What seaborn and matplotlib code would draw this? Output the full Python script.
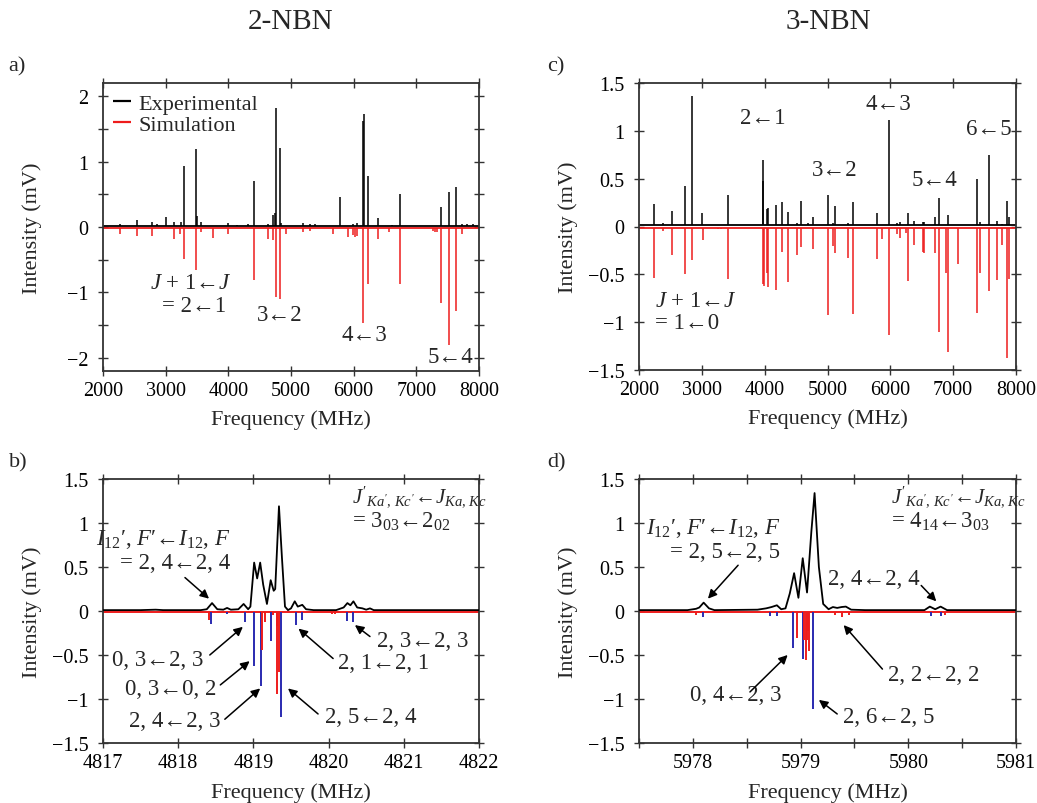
import numpy as np
import pandas as pd
import matplotlib
matplotlib.use("Agg")
import matplotlib.pyplot as plt
import seaborn as sns
from matplotlib.ticker import FixedLocator

# ---------------- data ----------------
# Panel a: 2-NBN broadband (MHz, mV)
a_exp_freq = [2271, 2537, 2777, 2856, 3000, 3138, 3245, 3298, 3489, 3500, 3564, 3989, 4133, 4319,
              4410, 4628, 4718, 4739, 4755, 4819, 4840, 5197, 5303, 5383, 5777, 5995, 6048, 6149,
              6165, 6234, 6388, 6606, 6734, 7388, 7527, 7638, 7723, 7803, 7910]
a_exp_int = [0.05, 0.11, 0.08, 0.05, 0.16, 0.08, 0.07, 0.93, 1.19, 0.17, 0.08, 0.06, 0.03, 0.04,
             0.70, 0.05, 0.18, 0.22, 1.82, 1.21, 0.06, 0.06, 0.04, 0.05, 0.46, 0.05, 0.06, 1.62,
             1.73, 0.78, 0.13, 0.03, 0.50, 0.31, 0.53, 0.61, 0.05, 0.05, 0.04]
a_sim_freq = [2271, 2537, 2777, 3138, 3229, 3298, 3489, 3564, 3750, 3989, 4410, 4628, 4718, 4755,
              4819, 4915, 5197, 5303, 5676, 5915, 5995, 6021, 6048, 6154, 6229, 6388, 6569, 6734,
              7271, 7298, 7335, 7388, 7527, 7638, 7723]
a_sim_int = [-0.10, -0.13, -0.13, -0.19, -0.10, -0.49, -0.65, -0.08, -0.17, -0.10, -0.81, -0.19,
             -0.20, -1.07, -1.10, -0.10, -0.08, -0.06, -0.10, -0.15, -0.12, -0.15, -0.13, -1.47,
             -0.87, -0.19, -0.08, -0.87, -0.06, -0.08, -0.08, -1.16, -1.81, -1.28, -0.10]

# Panel c: 3-NBN broadband
c_exp_freq = [2244, 2383, 2531, 2733, 2840, 3004, 3413, 3966, 3977, 4030, 4046, 4179, 4275, 4370,
              4513, 4577, 4684, 4768, 5002, 5082, 5119, 5321, 5401, 5794, 5980, 6102, 6160, 6283,
              6378, 6527, 6543, 6708, 6777, 6920, 7372, 7420, 7574, 7701, 7781, 7856, 7893]
c_exp_int = [0.24, 0.035, 0.165, 0.42, 1.36, 0.14, 0.33, 0.69, 0.48, 0.18, 0.19, 0.22, 0.26, 0.15,
             0.04, 0.27, 0.035, 0.095, 0.33, 0.04, 0.21, 0.035, 0.26, 0.14, 1.11, 0.035, 0.05, 0.14,
             0.06, 0.045, 0.05, 0.10, 0.30, 0.12, 0.50, 0.05, 0.75, 0.06, 0.03, 0.27, 0.095]
c_sim_freq = [2244, 2383, 2531, 2733, 2840, 3015, 3250, 3300, 3413, 3966, 3987, 4030, 4046, 4179,
              4275, 4370, 4513, 4577, 4768, 5002, 5082, 5119, 5321, 5401, 5794, 5868, 5980, 6102,
              6160, 6251, 6283, 6378, 6516, 6543, 6708, 6777, 6878, 6920, 7075, 7372, 7420, 7574,
              7701, 7781, 7856, 7893]
c_sim_int = [-0.54, -0.05, -0.30, -0.50, -0.35, -0.14, -0.03, -0.03, -0.55, -0.60, -0.62, -0.49,
             -0.63, -0.66, -0.27, -0.58, -0.30, -0.21, -0.23, -0.93, -0.20, -0.28, -0.33, -0.91,
             -0.34, -0.13, -1.13, -0.08, -0.12, -0.07, -0.57, -0.19, -0.27, -0.28, -0.28, -1.10,
             -0.49, -1.31, -0.39, -0.90, -0.49, -0.67, -0.56, -0.19, -1.37, -0.55]

# Panel b: 2-NBN, 3_03 <- 2_02 hyperfine structure
b_exp_freq = [4817.0, 4817.5, 4817.7, 4817.8, 4818.3, 4818.38, 4818.45, 4818.52, 4818.6, 4818.65,
              4818.7, 4818.8, 4818.87, 4818.93, 4818.96, 4819.01, 4819.05, 4819.09, 4819.13,
              4819.18, 4819.23, 4819.27, 4819.29, 4819.34, 4819.38, 4819.42, 4819.46, 4819.5,
              4819.55, 4819.59, 4819.65, 4819.7, 4819.8, 4820.1, 4820.2, 4820.25, 4820.29,
              4820.33, 4820.38, 4820.45, 4820.5, 4820.55, 4820.6, 4822.0]
b_exp_int = [0.01, 0.01, 0.015, 0.01, 0.01, 0.02, 0.09, 0.02, 0.015, 0.035, 0.015, 0.02, 0.08,
             0.02, 0.05, 0.55, 0.37, 0.55, 0.30, 0.08, 0.35, 0.23, 0.25, 1.19, 0.60, 0.05, 0.01,
             0.03, 0.11, 0.05, 0.07, 0.02, 0.01, 0.01, 0.04, 0.09, 0.065, 0.11, 0.04, 0.03, 0.015,
             0.03, 0.01, 0.01]
b_blue_freq = [4818.44, 4818.65, 4818.89, 4819.01, 4819.10, 4819.23, 4819.37, 4819.56, 4819.65,
               4820.25, 4820.32]
b_blue_int = [-0.15, -0.03, -0.13, -0.63, -0.85, -0.34, -1.20, -0.16, -0.10, -0.11, -0.12]
b_red_freq = [4818.41, 4819.11, 4819.15, 4819.26, 4819.31, 4819.32, 4819.34, 4820.05, 4820.09,
              4820.45, 4820.5]
b_red_int = [-0.10, -0.44, -0.12, -0.05, -0.17, -0.94, -0.69, -0.03, -0.03, -0.02, -0.02]

# Panel d: 3-NBN, 4_14 <- 3_03 hyperfine structure
d_exp_freq = [5977.5, 5977.95, 5978.03, 5978.06, 5978.1, 5978.15, 5978.2, 5978.6, 5978.68,
              5978.73, 5978.78, 5978.82, 5978.86, 5978.9, 5978.94, 5978.98, 5979.02, 5979.06,
              5979.1, 5979.13, 5979.17, 5979.21, 5979.26, 5979.3, 5979.34, 5979.38, 5979.42,
              5979.47, 5979.6, 5980.15, 5980.2, 5980.25, 5980.3, 5980.36, 5981.0]
d_exp_int = [0.01, 0.01, 0.025, 0.04, 0.095, 0.03, 0.01, 0.015, 0.03, 0.045, 0.065, 0.02, 0.03,
             0.20, 0.43, 0.15, 0.60, 0.21, 0.90, 1.34, 0.50, 0.08, 0.02, 0.045, 0.035, 0.045,
             0.05, 0.015, 0.01, 0.01, 0.05, 0.02, 0.05, 0.01, 0.01]
d_blue_freq = [5978.09, 5978.72, 5978.78, 5978.93, 5979.02, 5979.12, 5980.21, 5980.30]
d_blue_int = [-0.07, -0.06, -0.06, -0.42, -0.54, -1.11, -0.06, -0.06]
d_red_freq = [5978.03, 5978.97, 5979.03, 5979.05, 5979.06, 5979.07, 5979.08, 5979.32, 5979.38,
              5979.45, 5980.34]
d_red_int = [-0.04, -0.31, -0.33, -0.56, -0.33, -0.23, -0.45, -0.05, -0.07, -0.05, -0.04]

# tick labels
broad_xticks = [2000, 3000, 4000, 5000, 6000, 7000, 8000]
a_yticks = [-2, -1, 0, 1, 2]
a_yticklabels = ["\u22122", "\u22121", "0", "1", "2"]
half_yticks = [-1.5, -1, -0.5, 0, 0.5, 1, 1.5]
half_yticklabels = ["\u22121.5", "\u22121", "\u22120.5", "0", "0.5", "1", "1.5"]
b_xticks = [4817, 4818, 4819, 4820, 4821, 4822]
d_xticks = [5978, 5979, 5980, 5981]

titles = ["2-NBN", "3-NBN"]
panel_letters = ["a)", "b)", "c)", "d)"]

# ---------------- style ----------------
sns.set_theme(style="ticks")
plt.rcParams.update({
    "font.family": ["Liberation Serif", "DejaVu Serif"],
    "mathtext.fontset": "custom",
    "mathtext.rm": "Liberation Serif",
    "mathtext.it": "Liberation Serif:italic",
    "mathtext.bf": "Liberation Serif:bold",
    "axes.unicode_minus": True,
})

RED = "#ee1c1c"
BLUE = "#2a2ab0"
AX = "#333333"
TICK_FS = 14.5
LAB_FS = 16
ANN_FS = 16.5
J_FS = 15
LA = "←"


def tr(a, b):
    return f"{a}{LA}{b}"


W, H = 1037, 804
fig = plt.figure(figsize=(W / 100, H / 100), dpi=100)


def add_axes(l, t, r, b):
    return fig.add_axes([l / W, 1 - b / H, (r - l) / W, (b - t) / H])


axa = add_axes(103, 84, 479, 372)
axc = add_axes(639, 84, 1016, 371)
axb = add_axes(103, 480, 479, 744)
axd = add_axes(639, 480, 1016, 744)


def style(ax, label_top_px):
    for s in ax.spines.values():
        s.set_color(AX)
        s.set_linewidth(1.3)
    ax.tick_params(which="both", direction="inout", top=True, right=True, length=7,
                   width=1.0, color=AX, labelcolor="black", labelsize=TICK_FS)
    ax.tick_params(axis="y", pad=7)
    ax.tick_params(axis="x", pad=4)
    ax.set_xlabel("Frequency (MHz)", fontsize=LAB_FS)
    ax.set_ylabel("Intensity (mV)", fontsize=LAB_FS)
    hpx = ax.get_position().height * H
    wpx = ax.get_position().width * W
    ax.xaxis.set_label_coords(0.5, -label_top_px / hpx)
    ax.yaxis.set_label_coords(-61 / wpx, 0.5)
    ax.grid(False)


# ---- panel a ----
axa.axhline(0.02, color="black", lw=1.3)
axa.axhline(-0.02, color=RED, lw=1.3)
axa.vlines(a_exp_freq, 0.02, a_exp_int, color="black", lw=1.1, label="Experimental")
axa.vlines(a_sim_freq, -0.02, a_sim_int, color=RED, lw=1.1, label="Simulation")
axa.set_xlim(2000, 8000)
axa.set_ylim(-2.2, 2.2)
axa.set_xticks(broad_xticks)
axa.set_yticks(a_yticks)
axa.set_yticklabels(a_yticklabels)
axa.yaxis.set_minor_locator(FixedLocator([-1.5, -0.5, 0.5, 1.5]))
style(axa, 38)
leg = axa.legend(loc="upper left", bbox_to_anchor=(0.0, 1.0), frameon=False, fontsize=LAB_FS,
                 handlelength=0.8, handletextpad=0.35, labelspacing=0.05, borderaxespad=0.25,
                 borderpad=0.2)
for h in leg.legend_handles:
    h.set_linewidth(1.6)
axa.text(4053, -0.85, r"$J$ + 1" + LA + r"$J$", ha="right", va="center", fontsize=ANN_FS)
axa.text(2947, -1.2, "= " + tr(2, 1), ha="left", va="center", fontsize=ANN_FS)
axa.text(4814, -1.33, tr(3, 2), ha="center", va="center", fontsize=ANN_FS)
axa.text(6170, -1.64, tr(4, 3), ha="center", va="center", fontsize=ANN_FS)
axa.text(7548, -1.98, tr(5, 4), ha="center", va="center", fontsize=ANN_FS)

# ---- panel c ----
axc.axhline(0.015, color="black", lw=1.3)
axc.axhline(-0.02, color=RED, lw=1.3)
axc.vlines(c_exp_freq, 0.015, c_exp_int, color="black", lw=1.1)
axc.vlines(c_sim_freq, -0.02, c_sim_int, color=RED, lw=1.1)
axc.set_xlim(2000, 8000)
axc.set_ylim(-1.5, 1.5)
axc.set_xticks(broad_xticks)
axc.set_yticks(half_yticks)
axc.set_yticklabels(half_yticklabels)
style(axc, 38)
axc.text(3977, 1.14, tr(2, 1), ha="center", va="center", fontsize=ANN_FS)
axc.text(5969, 1.29, tr(4, 3), ha="center", va="center", fontsize=ANN_FS)
axc.text(5119, 0.60, tr(3, 2), ha="center", va="center", fontsize=ANN_FS)
axc.text(6703, 0.49, tr(5, 4), ha="center", va="center", fontsize=ANN_FS)
axc.text(7563, 1.02, tr(6, 5), ha="center", va="center", fontsize=ANN_FS)
axc.text(2250, -0.77, r"$J$ + 1" + LA + r"$J$", ha="left", va="center", fontsize=ANN_FS)
axc.text(2250, -1.0, "= " + tr(1, 0), ha="left", va="center", fontsize=ANN_FS)

ARROW = dict(arrowstyle="-|>", color="black", lw=1.1, mutation_scale=13, shrinkA=0, shrinkB=0)


def arrow(ax, xy_from, xy_to):
    ax.annotate("", xy=xy_to, xytext=xy_from, arrowprops=ARROW)


I_LINE = r"$I_{12}$′, $F$′" + LA + r"$I_{12}$, $F$"
J_LINE = r"$J'_{Ka',\,Kc'}$" + LA + r"$J_{Ka,\,Kc}$"

# ---- panel b ----
axb.axhline(-0.015, color=RED, lw=1.4, zorder=1)
sns.lineplot(x=b_exp_freq, y=b_exp_int, ax=axb, color="black", lw=1.3, zorder=3)
axb.vlines(b_blue_freq, -0.015, b_blue_int, color=BLUE, lw=1.4, zorder=2)
axb.vlines(b_red_freq, -0.015, b_red_int, color=RED, lw=1.4, zorder=2)
axb.set_xlim(4817, 4822)
axb.set_ylim(-1.5, 1.5)
axb.set_xticks(b_xticks)
axb.set_yticks(half_yticks)
axb.set_yticklabels(half_yticklabels)
style(axb, 39)
axb.text(4818.69, 0.82, I_LINE, ha="right", va="center", fontsize=ANN_FS)
axb.text(4818.69, 0.55, "= " + tr("2, 4", "2, 4"), ha="right", va="center", fontsize=ANN_FS)
arrow(axb, (4818.09, 0.38), (4818.41, 0.14))
axb.text(4820.31, 1.30, J_LINE, ha="left", va="center", fontsize=J_FS)
axb.text(4820.31, 1.03, "= " + r"$3_{03}$" + LA + r"$2_{02}$", ha="left", va="center", fontsize=J_FS + 1.5)
axb.text(4818.33, -0.55, tr("0, 3", "2, 3"), ha="right", va="center", fontsize=ANN_FS)
arrow(axb, (4818.42, -0.50), (4818.86, -0.18))
axb.text(4818.51, -0.88, tr("0, 3", "0, 2"), ha="right", va="center", fontsize=ANN_FS)
arrow(axb, (4818.56, -0.84), (4818.95, -0.57))
axb.text(4818.56, -1.24, tr("2, 4", "2, 3"), ha="right", va="center", fontsize=ANN_FS)
arrow(axb, (4818.62, -1.23), (4819.09, -0.88))
axb.text(4819.95, -1.20, tr("2, 5", "2, 4"), ha="left", va="center", fontsize=ANN_FS)
arrow(axb, (4819.86, -1.17), (4819.46, -0.88))
axb.text(4820.13, -0.58, tr("2, 1", "2, 1"), ha="left", va="center", fontsize=ANN_FS)
arrow(axb, (4820.06, -0.54), (4819.60, -0.20))
axb.text(4820.64, -0.33, tr("2, 3", "2, 3"), ha="left", va="center", fontsize=ANN_FS)
arrow(axb, (4820.55, -0.29), (4820.35, -0.16))

# ---- panel d ----
axd.axhline(-0.015, color=RED, lw=1.4, zorder=1)
sns.lineplot(x=d_exp_freq, y=d_exp_int, ax=axd, color="black", lw=1.3, zorder=3)
axd.vlines(d_blue_freq, -0.015, d_blue_int, color=BLUE, lw=1.4, zorder=2)
axd.vlines(d_red_freq, -0.015, d_red_int, color=RED, lw=1.4, zorder=2)
axd.set_xlim(5977.5, 5981)
axd.set_ylim(-1.5, 1.5)
axd.set_xticks(d_xticks)
axd.xaxis.set_minor_locator(FixedLocator([5977.5, 5978.5, 5979.5, 5980.5]))
axd.set_yticks(half_yticks)
axd.set_yticklabels(half_yticklabels)
style(axd, 39)
axd.text(5978.81, 0.95, I_LINE, ha="right", va="center", fontsize=ANN_FS)
axd.text(5978.81, 0.68, "= " + tr("2, 5", "2, 5"), ha="right", va="center", fontsize=ANN_FS)
arrow(axd, (5978.42, 0.52), (5978.14, 0.14))
axd.text(5979.84, 1.30, J_LINE, ha="left", va="center", fontsize=J_FS)
axd.text(5979.84, 1.03, "= " + r"$4_{14}$" + LA + r"$3_{03}$", ha="left", va="center", fontsize=J_FS + 1.5)
axd.text(5979.25, 0.37, tr("2, 4", "2, 4"), ha="left", va="center", fontsize=ANN_FS)
arrow(axd, (5980.12, 0.29), (5980.26, 0.11))
axd.text(5978.82, -0.95, tr("0, 4", "2, 3"), ha="right", va="center", fontsize=ANN_FS)
arrow(axd, (5978.53, -0.92), (5978.88, -0.50))
axd.text(5979.81, -0.72, tr("2, 2", "2, 2"), ha="left", va="center", fontsize=ANN_FS)
arrow(axd, (5979.76, -0.66), (5979.40, -0.16))
axd.text(5979.39, -1.20, tr("2, 6", "2, 5"), ha="left", va="center", fontsize=ANN_FS)
arrow(axd, (5979.34, -1.17), (5979.17, -1.01))

# ---- titles and panel letters ----
fig.text(291 / W, 1 - 22 / H, titles[0], ha="center", va="center", fontsize=21)
fig.text(828 / W, 1 - 22 / H, titles[1], ha="center", va="center", fontsize=21)
fig.text(8 / W, 1 - 67 / H, panel_letters[0], ha="left", va="center", fontsize=LAB_FS)
fig.text(9 / W, 1 - 463 / H, panel_letters[1], ha="left", va="center", fontsize=LAB_FS)
fig.text(547 / W, 1 - 67 / H, panel_letters[2], ha="left", va="center", fontsize=LAB_FS)
fig.text(547 / W, 1 - 463 / H, panel_letters[3], ha="left", va="center", fontsize=LAB_FS)

fig.savefig("out.png", dpi=100)
